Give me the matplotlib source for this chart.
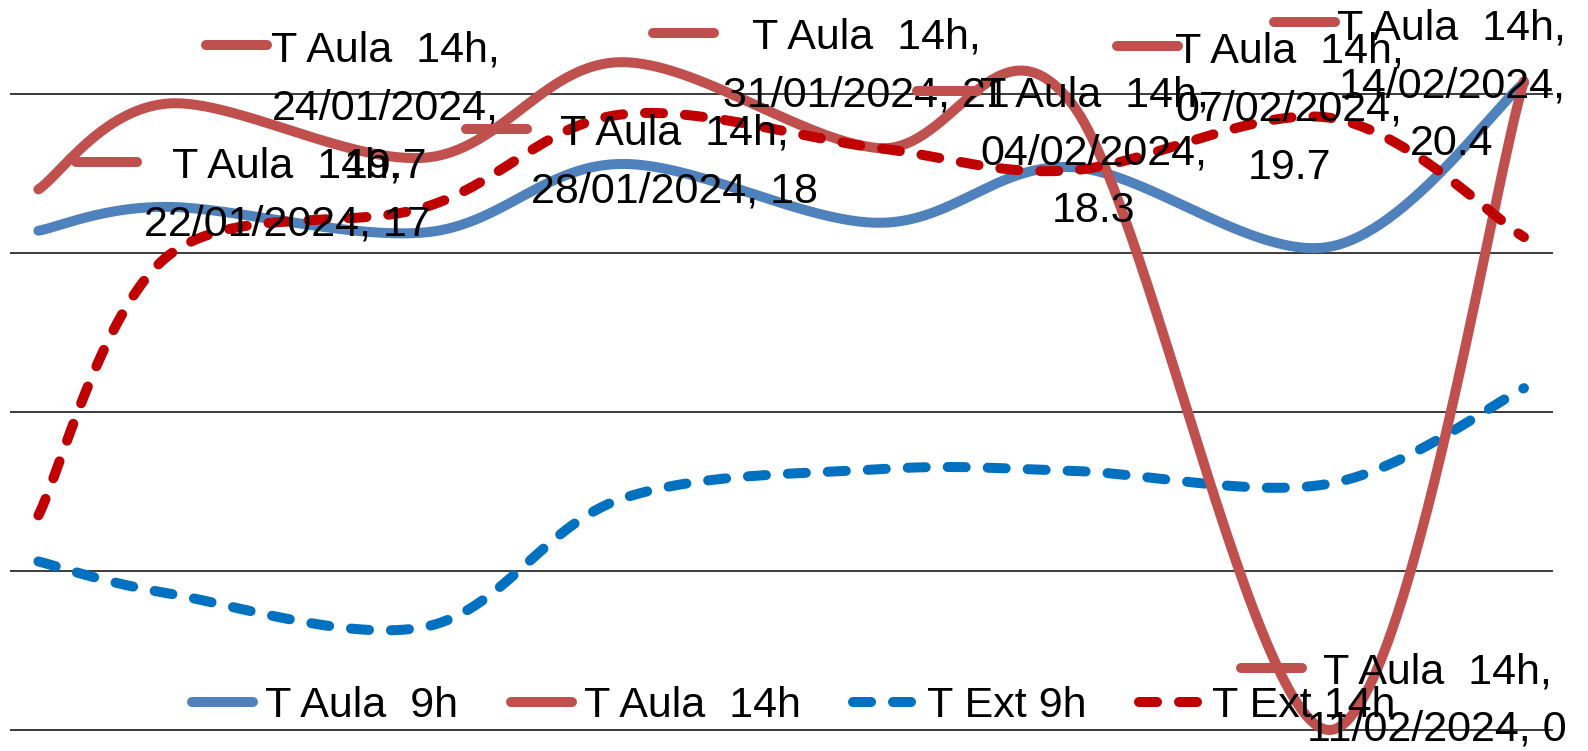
import matplotlib
matplotlib.use('Agg')
import matplotlib.pyplot as plt
import matplotlib.dates as mdates
from matplotlib.lines import Line2D
from matplotlib.transforms import IdentityTransform
import numpy as np
import pandas as pd

# data
dates = ['22/01/2024', '24/01/2024', '28/01/2024', '31/01/2024',
         '04/02/2024', '07/02/2024', '11/02/2024', '14/02/2024']
aula_9h = [15.7, 16.45, 15.65, 17.8, 15.95, 17.7, 15.2, 20.35]
aula_14h = [17, 19.7, 18, 21, 18.3, 19.7, 0, 20.4]
ext_9h = [5.3, 4.3, 3.25, 7.25, 8.2, 8.15, 7.75, 10.75]
ext_14h = [6.75, 14.9, 16.45, 19.35, 18.3, 17.6, 19.25, 15.5]
names = ['T Aula  9h', 'T Aula  14h', 'T Ext 9h', 'T Ext 14h']
y_ticks = [0, 5, 10, 15, 20]

# placement of the data labels of T Aula 14h, pixels from the point (y down)
# key dx, key dy, text dx, text dy, value on its own line
lab_pos = [(32.5, -27, 248.5, 6, False),
           (33, -59, 218, 5, True),
           (35, -29, 248.5, 5, False),
           (28, -29, 247, 4, False),
           (33.5, -57, 216, 5, True),
           (40, -58, 217.5, 6, True),
           (-94, -61.6, 107, -29, False),
           (-255, -59, -72, 5, True)]

colors = ['#4F81BD', '#C0504D', '#0070C0', '#C00000']
lw = 7.2
dash = (0, (1.8, 2.2))
font = {'family': ['Liberation Sans', 'DejaVu Sans'], 'size': 31}


def smooth(x, y, n=60):
    # excel style smoothed line: bezier pieces with 1/6 tangents
    pts = np.column_stack([x, y]).astype(float)
    pad = np.vstack([pts[:1], pts, pts[-1:]])
    t = np.linspace(0, 1, n)[:, None]
    out = []
    for i in range(len(pts) - 1):
        p0 = pts[i]
        p3 = pts[i + 1]
        p1 = p0 + (pad[i + 2] - pad[i]) / 6.0
        p2 = p3 - (pad[i + 3] - pad[i + 1]) / 6.0
        seg = (1-t)**3*p0 + 3*(1-t)**2*t*p1 + 3*(1-t)*t**2*p2 + t**3*p3
        out.append(seg if i == 0 else seg[1:])
    out = np.vstack(out)
    return out[:, 0], out[:, 1]


x = mdates.date2num(pd.to_datetime(dates, dayfirst=True))

fig = plt.figure(figsize=(15.88, 7.51), dpi=100)
ax = fig.add_axes([10/1588, 0, 1543/1588, 1])
ax.set_xlim(x[0] - 0.44, x[-1] + 0.45)
ax.set_ylim(-21/31.8, 730/31.8)

ax.set_yticks(y_ticks)
ax.set_xticks([])
ax.tick_params(length=0, labelleft=False, labelbottom=False)
ax.yaxis.grid(True, color='#1a1a1a', lw=1.2)
ax.set_axisbelow(True)
for s in ax.spines.values():
    s.set_visible(False)

series = [aula_9h, aula_14h, ext_9h, ext_14h]
styles = ['-', '-', dash, dash]
zs = [2, 2.3, 2.2, 2.4]
handles = []
for vals, c, ls, z in zip(series, colors, styles, zs):
    sx, sy = smooth(x, vals)
    ln, = ax.plot(sx, sy, color=c, lw=lw, ls=ls, zorder=z,
                  solid_capstyle='round', dash_capstyle='round')
    handles.append(ln)

# data labels with legend key
for xi, v, d, (kx, ky, tx, ty, wrap) in zip(x, aula_14h, dates, lab_pos):
    val = '{:g}'.format(v)
    sep = ',\n' if wrap else ', '
    txt = names[1] + ',\n' + d + sep + val
    ax.annotate(txt, xy=(xi, v), xytext=(tx, -ty), textcoords='offset pixels',
                ha='center', va='center', multialignment='center',
                linespacing=1.58, zorder=6, **font)
    px, py = ax.transData.transform((xi, v))
    fig.add_artist(Line2D([px + kx + 5, px + kx + 66], [py - ky, py - ky],
                          transform=IdentityTransform(), color=colors[1],
                          lw=lw, solid_capstyle='round', zorder=5))

leg = ax.legend(handles, names, loc='center left',
                bbox_to_anchor=(192/1588, 1 - 706/751),
                bbox_transform=fig.transFigure,
                ncol=4, frameon=False, borderpad=0, borderaxespad=0,
                handlelength=1.42, handletextpad=0.28, columnspacing=1.22,
                prop=font)
for hl in leg.get_lines():
    hl.set_solid_capstyle('round')
    hl.set_dash_capstyle('round')

fig.savefig('out.png', dpi=100)
